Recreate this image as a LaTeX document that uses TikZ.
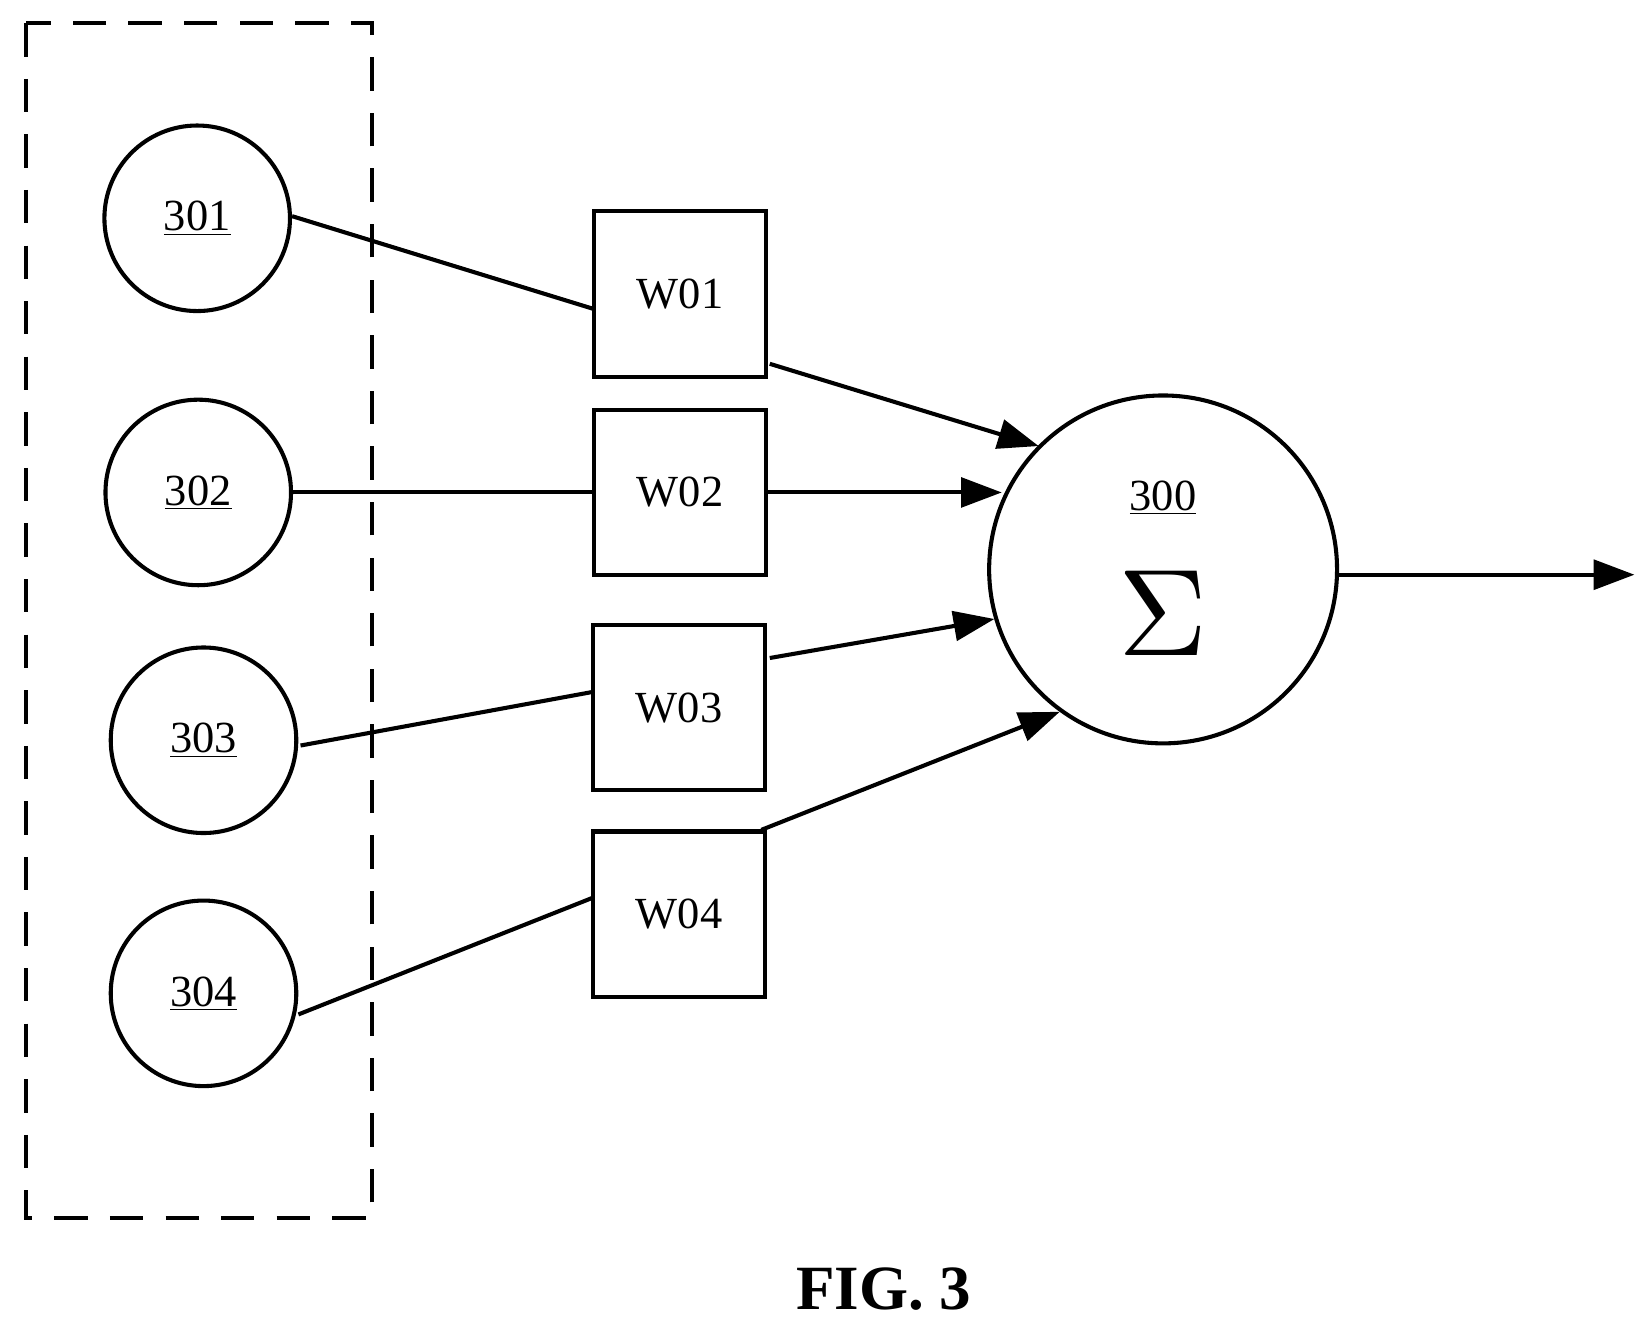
\documentclass[tikz,border=0pt]{standalone}
\usepackage{fontspec}
\setmainfont{Liberation Serif}
\usetikzlibrary{arrows.meta}
\begin{document}
\begin{tikzpicture}[x=0.02cm,y=-0.02cm,line width=2.2pt,
  inp/.style={circle,draw,minimum size=3.52cm,inner sep=0pt,font=\fontsize{24}{28}\selectfont},
  wb/.style={rectangle,draw,minimum width=3.26cm,minimum height=3.14cm,inner sep=0pt,font=\fontsize{24}{28}\selectfont},
  arr/.style={-{Triangle[length=22pt,width=16pt]}}]
\useasboundingbox (0,0) rectangle (1560,1258);
\draw[dash pattern=on 18pt off 12pt] (25,22) rectangle (353,1155);
\node[inp] (c1) at (187,207) {\underline{301}};
\node[inp] (c2) at (188,467) {\underline{302}};
\node[inp] (c3) at (193,702) {\underline{303}};
\node[inp] (c4) at (193,942) {\underline{304}};
\node[wb] (w1) at (645,279) {W01};
\node[wb] (w2) at (645,467) {W02};
\node[wb] (w3) at (644,671) {W03};
\node[wb] (w4) at (644,867) {W04};
\node[circle,draw,minimum size=6.6cm,inner sep=0pt] (s) at (1103,540) {};
\node[font=\fontsize{24}{28}\selectfont] (t300) at (1103,472) {\underline{300}};
\node (sig) at (1103,582) {\resizebox{!}{1.6cm}{$\Sigma$}};
\coordinate (out) at (1550,545);
\draw (277,205) -- (563,293);
\draw (c2.east) -- (w2.west);
\draw (285,707) -- (563,656);
\draw (283,962) -- (563,851);
\draw[arr] (730,345) -- (985,423);
\draw[arr] (w2.east) -- (950,467);
\draw[arr] (730,624) -- (943,587);
\draw[arr] (722,787) -- (1005,675);
\draw[arr] (s.east) ++(0,5) -- (out);
\node[font=\bfseries\fontsize{34}{38}\selectfont] (fig) at (838,1222) {FIG. 3};
\end{tikzpicture}
\end{document}
